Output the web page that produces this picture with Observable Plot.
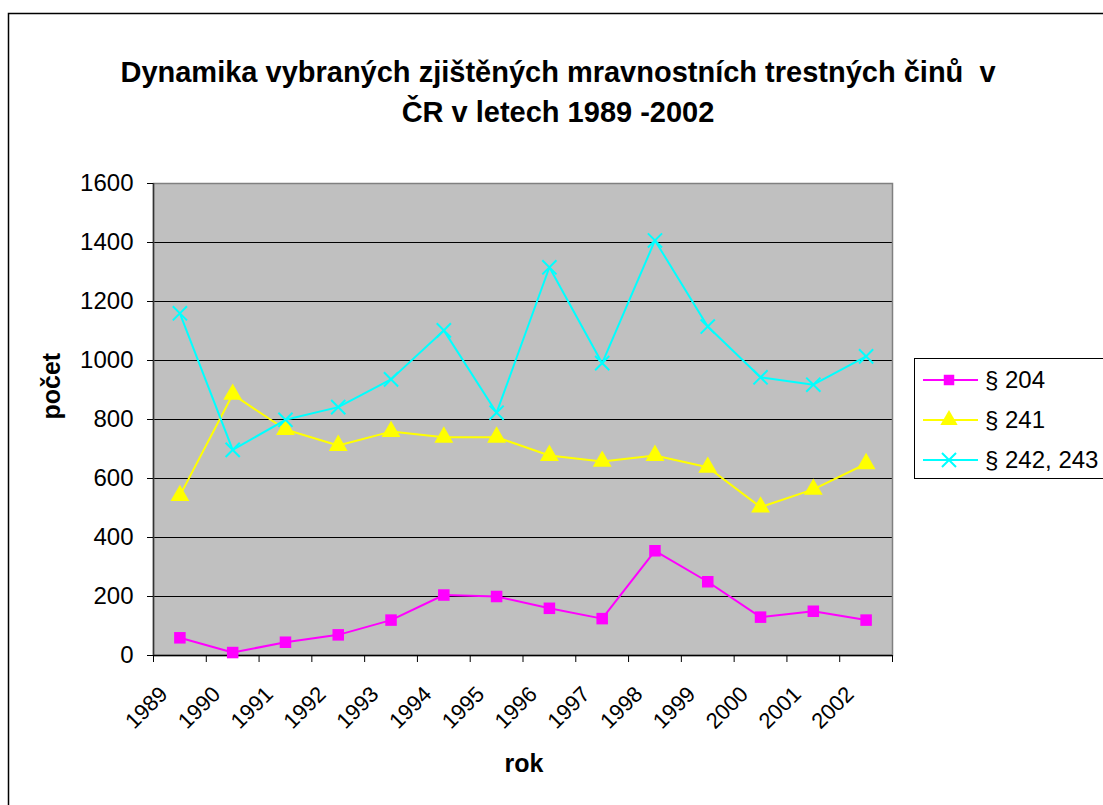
<!DOCTYPE html>
<html>
<head>
<meta charset="utf-8">
<script src="https://cdn.jsdelivr.net/npm/d3@7"></script>
<script src="https://cdn.jsdelivr.net/npm/@observablehq/plot@0.6"></script>
<style>
  html, body { margin: 0; padding: 0; background: #fff; }
  #chart svg { display: block; }
</style>
</head>
<body>
<div id="chart"></div>
<script>
const years = [1989, 1990, 1991, 1992, 1993, 1994, 1995, 1996, 1997, 1998, 1999, 2000, 2001, 2002];
const s204 = [60, 10, 45, 70, 120, 205, 200, 160, 125, 355, 250, 130, 150, 120];
const s241 = [542, 885, 766, 712, 759, 740, 740, 678, 658, 678, 638, 503, 563, 650];
const s242 = [1160, 697, 799, 842, 936, 1102, 823, 1316, 991, 1407, 1115, 943, 918, 1014];
const seriesNames = ["§ 204", "§ 241", "§ 242, 243"];
const seriesColors = ["#FF00FF", "#FFFF00", "#00FFFF"];
const yTicks = [0, 200, 400, 600, 800, 1000, 1200, 1400, 1600];
const titleLines = ["Dynamika vybraných zjištěných mravnostních trestných činů  v", "ČR v letech 1989 -2002"];
const xLabel = "rok";
const yLabel = "počet";

const font = "Arial, 'Liberation Sans', sans-serif";
const rows = (vals, i) => years.map((y, j) => ({year: y, value: vals[j], series: seriesNames[i]}));
const d204 = rows(s204, 0), d241 = rows(s241, 1), d242 = rows(s242, 2);
const bounds = years.map(y => y - 0.5).concat([years[years.length - 1] + 0.5]);

const plot = Plot.plot({
  width: 1103,
  height: 805,
  marginLeft: 153,
  marginRight: 211,
  marginTop: 183,
  marginBottom: 150,
  style: {fontFamily: font, color: "#000", background: "transparent", overflow: "visible"},
  x: {type: "linear", domain: [bounds[0], bounds[bounds.length - 1]], axis: null},
  y: {domain: [0, 1600], axis: null},
  marks: [
    Plot.frame({fill: "#C0C0C0", stroke: "none"}),
    Plot.ruleY(yTicks.filter(d => d > 0 && d < 1600), {stroke: "#000", strokeWidth: 1}),
    Plot.frame({stroke: "#808080", strokeWidth: 1.5}),
    Plot.ruleY([0], {stroke: "#000", strokeWidth: 1.5}),
    Plot.ruleX([bounds[0]], {stroke: "#333", strokeWidth: 1.5}),
    Plot.axisY({ticks: yTicks, tickSize: 6, tickPadding: 14, fontSize: 24, label: null, tickFormat: d => String(d)}),
    Plot.axisX({ticks: bounds, tickSize: 7, tickFormat: () => "", label: null}),
    Plot.text(years, {x: d => d, y: 0, text: d => String(d), rotate: -45, textAnchor: "end", dx: -16, dy: 35, fontSize: 22}),
    Plot.line(d204, {x: "year", y: "value", stroke: seriesColors[0], strokeWidth: 2}),
    Plot.line(d241, {x: "year", y: "value", stroke: seriesColors[1], strokeWidth: 2}),
    Plot.line(d242, {x: "year", y: "value", stroke: seriesColors[2], strokeWidth: 2}),
    Plot.dot(d204, {x: "year", y: "value", symbol: "square", r: 6.5, fill: seriesColors[0], stroke: "none"}),
    Plot.dot(d241, {x: "year", y: "value", symbol: "triangle", r: 7, fill: seriesColors[1], stroke: "none"}),
    Plot.dot(d242, {x: "year", y: "value", symbol: "times", r: 6.5, stroke: seriesColors[2], strokeWidth: 2, fill: "none"}),
    Plot.text([titleLines[0]], {frameAnchor: "top", dx: 35, dy: -122, fontSize: 29, fontWeight: "bold"}),
    Plot.text([titleLines[1]], {frameAnchor: "top", dx: 35, dy: -82, fontSize: 29, fontWeight: "bold"}),
    Plot.text([yLabel], {frameAnchor: "left", dx: -102, rotate: -90, fontSize: 25, fontWeight: "bold"}),
    Plot.text([xLabel], {frameAnchor: "bottom", dx: 1, dy: 116, fontSize: 25, fontWeight: "bold"})
  ]
});

document.getElementById("chart").appendChild(plot);

// outer chart border (left and top edges visible)
const svg = d3.select(plot);
svg.insert("rect", ":first-child")
  .attr("x", 8.5).attr("y", 13.5).attr("width", 1300).attr("height", 1000)
  .attr("fill", "#fff").attr("stroke", "#000").attr("stroke-width", 1.5);

// legend
const lg = svg.append("g").attr("font-family", font).attr("font-size", 24).attr("text-anchor", "start");
lg.append("rect").attr("x", 914.5).attr("y", 358.5).attr("width", 300).attr("height", 120)
  .attr("fill", "#fff").attr("stroke", "#000").attr("stroke-width", 1);
const symbols = [d3.symbolSquare, d3.symbolTriangle, d3.symbolTimes];
seriesNames.forEach((name, i) => {
  const cy = 380 + i * 40;
  lg.append("line").attr("x1", 923).attr("x2", 978).attr("y1", cy).attr("y2", cy)
    .attr("stroke", seriesColors[i]).attr("stroke-width", 2);
  const sym = lg.append("path")
    .attr("transform", `translate(949,${cy})`)
    .attr("d", d3.symbol(symbols[i], i === 0 ? 110 : 130)());
  if (i === 2) sym.attr("fill", "none").attr("stroke", seriesColors[i]).attr("stroke-width", 2);
  else sym.attr("fill", seriesColors[i]);
  lg.append("text").attr("x", 985).attr("y", cy).attr("dy", "0.35em").attr("text-anchor", "start").attr("fill", "#000").text(name);
});
</script>
</body>
</html>
